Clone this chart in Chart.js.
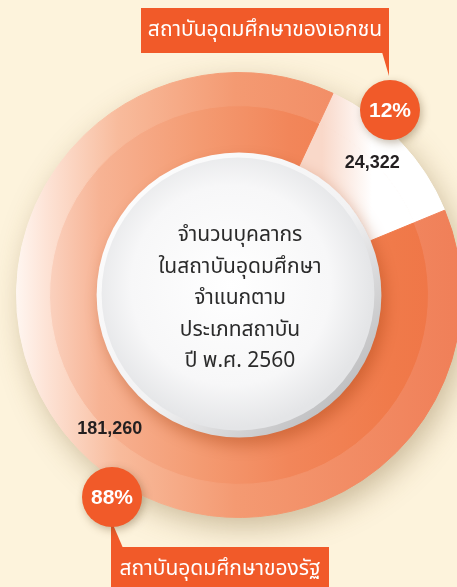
<!DOCTYPE html>
<html>
<head>
<meta charset="utf-8">
<script src="https://cdn.jsdelivr.net/npm/chart.js@4.4.1/dist/chart.umd.min.js"></script>
<style>
    html, body { margin: 0; padding: 0; width: 457px; height: 587px; overflow: hidden; background: #fdf3dc; }
    canvas { position: absolute; left: 0; top: 0; }
</style>
</head>
<body>
<canvas id="staffChart" width="478" height="587"></canvas>
<script>
// Data
const categories = ['สถาบันอุดมศึกษาของเอกชน', 'สถาบันอุดมศึกษาของรัฐ'];
const staffCounts = [24322, 181260];
const titleLines = ['จำนวนบุคลากร', 'ในสถาบันอุดมศึกษา', 'จำแนกตาม', 'ประเภทสถาบัน', 'ปี พ.ศ. 2560'];

const thaiFont = '"Noto Sans Thai", "Noto Sans Thai UI", "Noto Sans", "DejaVu Sans", sans-serif';
const numFont = '"Liberation Sans", Arial, sans-serif';
const accent = '#f15a29';

const total = staffCounts.reduce((a, b) => a + b, 0);
const percents = staffCounts.map(v => Math.round(v / total * 100) + '%');

// horizontal gradients for the two rings
function ringFill(context) {
    const chart = context.chart;
    const area = chart.chartArea;
    if (!area) return '#f28660';
    const g = chart.ctx.createLinearGradient(area.left + 10, 0, area.left + 460, 0);
    if (context.dataIndex === 0) {
        // private slice: white with a pink blush at the inner side
        const p = chart.ctx.createLinearGradient(322, 0, 372, 0);
        p.addColorStop(0, '#f9d8c9');
        p.addColorStop(1, '#ffffff');
        return p;
    }
    if (context.datasetIndex === 0) {
        g.addColorStop(0, '#fffaf6');
        g.addColorStop(0.08, '#fde3d6');
        g.addColorStop(0.24, '#f8bb9c');
        g.addColorStop(0.5, '#f49a72');
        g.addColorStop(1, '#f07f58');
    } else {
        g.addColorStop(0.07, '#fbd6c5');
        g.addColorStop(0.2, '#f7b394');
        g.addColorStop(0.42, '#f49b72');
        g.addColorStop(0.62, '#f2865a');
        g.addColorStop(0.85, '#f07a4a');
        g.addColorStop(1, '#ef7446');
    }
    return g;
}

// soft shadow under the ring
const ringShadow = {
    id: 'ringShadow',
    beforeDatasetsDraw(chart) {
        const el = chart.getDatasetMeta(0).data[0];
        const ctx = chart.ctx;
        ctx.save();
        ctx.shadowColor = 'rgba(110, 80, 30, 0.35)';
        ctx.shadowBlur = 30;
        ctx.shadowOffsetX = 6;
        ctx.shadowOffsetY = 10;
        ctx.fillStyle = '#f5a07a';
        ctx.beginPath();
        ctx.arc(el.x, el.y, el.outerRadius - 1, 0, Math.PI * 2);
        ctx.fill();
        ctx.restore();
    }
};

// white button in the middle with the title
const centerDisk = {
    id: 'centerDisk',
    afterDatasetsDraw(chart) {
        const el = chart.getDatasetMeta(1).data[0];
        const ctx = chart.ctx;
        const cx = el.x, cy = el.y, r = el.innerRadius;
        ctx.save();
        ctx.shadowColor = 'rgba(150, 50, 0, 0.35)';
        ctx.shadowBlur = 16;
        ctx.shadowOffsetX = 4;
        ctx.shadowOffsetY = 8;
        const rim = ctx.createLinearGradient(cx - r, cy - r, cx + r, cy + r);
        rim.addColorStop(0, '#ffffff');
        rim.addColorStop(0.55, '#f2f2f3');
        rim.addColorStop(1, '#a8a8aa');
        ctx.fillStyle = rim;
        ctx.beginPath();
        ctx.arc(cx, cy, r, 0, Math.PI * 2);
        ctx.fill();
        ctx.restore();

        ctx.save();
        const face = ctx.createRadialGradient(cx - 8, cy - 10, 0, cx - 8, cy - 10, r);
        face.addColorStop(0, '#ffffff');
        face.addColorStop(0.7, '#f7f7f8');
        face.addColorStop(1, '#e4e5e7');
        ctx.fillStyle = face;
        ctx.beginPath();
        ctx.arc(cx - 1, cy - 1, r - 6, 0, Math.PI * 2);
        ctx.fill();

        ctx.fillStyle = '#2b2b2b';
        ctx.font = '21px ' + thaiFont;
        ctx.textAlign = 'center';
        ctx.textBaseline = 'middle';
        titleLines.forEach((line, i) => {
            ctx.fillText(line, cx + 1, cy - 58 + i * 31.5);
        });
        ctx.restore();
    }
};

function badge(ctx, x, y, text) {
    ctx.save();
    ctx.shadowColor = 'rgba(90, 60, 20, 0.35)';
    ctx.shadowBlur = 8;
    ctx.shadowOffsetX = 2;
    ctx.shadowOffsetY = 3;
    ctx.fillStyle = accent;
    ctx.beginPath();
    ctx.arc(x, y, 30, 0, Math.PI * 2);
    ctx.fill();
    ctx.restore();
    ctx.save();
    ctx.fillStyle = '#ffffff';
    ctx.font = 'bold 21px ' + numFont;
    ctx.textAlign = 'center';
    ctx.textBaseline = 'middle';
    ctx.fillText(text, x, y + 1);
    ctx.restore();
}

function box(ctx, x, y, w, h, text) {
    ctx.save();
    ctx.fillStyle = accent;
    ctx.fillRect(x, y, w, h);
    ctx.fillStyle = '#ffffff';
    ctx.font = '21px ' + thaiFont;
    ctx.textAlign = 'center';
    ctx.textBaseline = 'middle';
    ctx.fillText(text, x + w / 2, y + h / 2 + 1);
    ctx.restore();
}

// value labels, callout boxes and percentage badges
const callouts = {
    id: 'callouts',
    afterDraw(chart) {
        const ctx = chart.ctx;
        const meta = chart.getDatasetMeta(0);
        const cx = meta.data[0].x, cy = meta.data[0].y;

        ctx.save();
        ctx.fillStyle = '#231f20';
        ctx.font = 'bold 18px ' + numFont;
        ctx.textAlign = 'center';
        ctx.textBaseline = 'middle';
        meta.data.forEach((arc, i) => {
            const mid = (arc.startAngle + arc.endAngle) / 2;
            const lx = cx + Math.cos(mid) * 187;
            const ly = cy + Math.sin(mid) * 187;
            ctx.fillText(staffCounts[i].toLocaleString('en-US'), lx + (i ? 6 : -2), ly + (i ? 5 : -3));
        });
        ctx.restore();

        // top callout (private)
        ctx.save();
        ctx.fillStyle = accent;
        ctx.beginPath();
        ctx.moveTo(cx + 143, 52);
        ctx.lineTo(cx + 150, 52);
        ctx.lineTo(cx + 150, 76);
        ctx.closePath();
        ctx.fill();
        ctx.restore();
        box(ctx, cx - 98, 8, 248, 45, categories[0]);
        badge(ctx, cx + 151, cy - 185, percents[0]);

        // bottom callout (public)
        ctx.save();
        ctx.fillStyle = accent;
        ctx.beginPath();
        ctx.moveTo(cx - 128, cy + 225);
        ctx.lineTo(cx - 128, cy + 253);
        ctx.lineTo(cx - 116, cy + 253);
        ctx.closePath();
        ctx.fill();
        ctx.restore();
        box(ctx, cx - 128, cy + 252, 218, 45, categories[1]);
        badge(ctx, cx - 127, cy + 202, percents[1]);
    }
};

new Chart(document.getElementById('staffChart'), {
    type: 'doughnut',
    data: {
        labels: categories,
        datasets: [
            { data: staffCounts, weight: 33, backgroundColor: ringFill, borderColor: ringFill, borderWidth: 1, hoverOffset: 0 },
            { data: staffCounts, weight: 47, backgroundColor: ringFill, borderColor: ringFill, borderWidth: 1, hoverOffset: 0 }
        ]
    },
    options: {
        responsive: false,
        animation: false,
        rotation: 25,
        cutout: '64%',
        layout: { padding: { top: 72, bottom: 69, left: 0, right: 0 } },
        plugins: {
            legend: { display: false },
            tooltip: { enabled: false }
        }
    },
    plugins: [ringShadow, centerDisk, callouts]
});
</script>
</body>
</html>
